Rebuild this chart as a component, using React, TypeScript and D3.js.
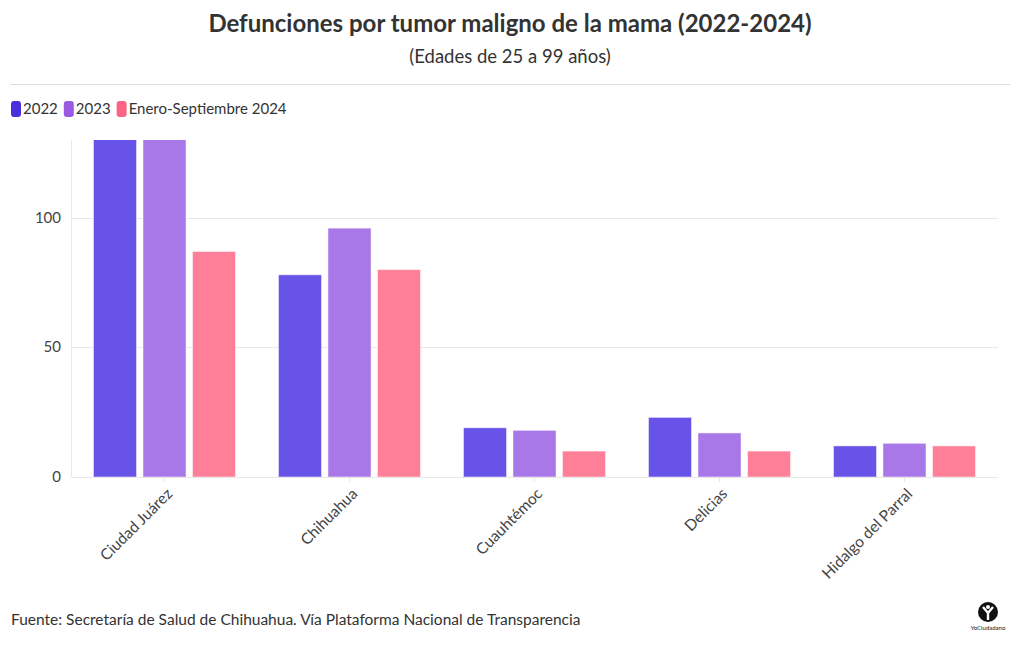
import React, { useEffect, useRef } from "react";
import * as d3 from "d3";

// data (Ciudad Juárez 2022/2023 run off the top of the axis)
const categories = ["Ciudad Juárez", "Chihuahua", "Cuauhtémoc", "Delicias", "Hidalgo del Parral"];
const seriesNames = ["2022", "2023", "Enero-Septiembre 2024"];
const values2022 = [150, 78, 19, 23, 12];
const values2023 = [146, 96, 18, 17, 13];
const values2024 = [87, 80, 10, 10, 12];
const yTicks = [0, 50, 100];

const legendColors = ["#4a30dd", "#9a5be3", "#fb6485"];
const barColors = ["#6753e8", "#a877e8", "#ff7f98"];

const App = () => {
  const ref = useRef<SVGSVGElement | null>(null);

  useEffect(() => {
    const width = 1020;
    const height = 650;
    const margin = { top: 140, right: 23, bottom: 173, left: 72 };
    const font = "Lato, 'Open Sans', sans-serif";

    const svg = d3.select(ref.current);
    svg.selectAll("*").remove();

    // title block
    svg.append("text")
      .attr("x", width / 2).attr("y", 32)
      .attr("text-anchor", "middle")
      .style("font-family", font).style("font-weight", "bold")
      .style("font-size", "24px").attr("fill", "#333")
      .text("Defunciones por tumor maligno de la mama (2022-2024)");

    svg.append("text")
      .attr("x", width / 2).attr("y", 63)
      .attr("text-anchor", "middle")
      .style("font-family", font)
      .style("font-size", "18.5px").attr("fill", "#333")
      .text("(Edades de 25 a 99 años)");

    svg.append("line")
      .attr("x1", 10).attr("x2", 1010).attr("y1", 84.5).attr("y2", 84.5)
      .attr("stroke", "#ddd");

    // legend
    let lx = 11;
    seriesNames.forEach((name, i) => {
      svg.append("rect")
        .attr("x", lx).attr("y", 101).attr("width", 10).attr("height", 16)
        .attr("rx", 3).attr("fill", legendColors[i]);
      const t = svg.append("text")
        .attr("x", lx + 12).attr("y", 114)
        .style("font-family", font).style("font-size", "15px").attr("fill", "#333")
        .text(name);
      lx += 12 + (t.node() as SVGTextElement).getComputedTextLength() + 6;
    });

    const data = categories.map((c, i) => ({
      category: c,
      vals: [values2022[i], values2023[i], values2024[i]],
    }));

    const x0 = d3.scaleBand()
      .domain(categories)
      .range([margin.left, width - margin.right])
      .paddingInner(0.232)
      .paddingOuter(0.116);

    const x1 = d3.scaleBand()
      .domain(d3.range(seriesNames.length).map(String))
      .range([0, x0.bandwidth()])
      .paddingInner(0.13);

    const y = d3.scaleLinear()
      .domain([0, 130])
      .range([height - margin.bottom, margin.top]);

    // grid
    svg.append("g")
      .selectAll("line")
      .data(yTicks)
      .join("line")
      .attr("x1", margin.left).attr("x2", 998)
      .attr("y1", (d) => Math.round(y(d)) + 0.5).attr("y2", (d) => Math.round(y(d)) + 0.5)
      .attr("stroke", "#e8e8e8");

    svg.append("line")
      .attr("x1", margin.left - 0.5).attr("x2", margin.left - 0.5)
      .attr("y1", margin.top).attr("y2", height - margin.bottom)
      .attr("stroke", "#e8e8e8");

    svg.append("g")
      .selectAll("text")
      .data(yTicks)
      .join("text")
      .attr("x", 61).attr("y", (d) => y(d) + 5)
      .attr("text-anchor", "end")
      .style("font-family", font).style("font-size", "15px").attr("fill", "#444")
      .text((d) => d);

    // bars, clipped to plot area
    svg.append("clipPath").attr("id", "plot-clip")
      .append("rect")
      .attr("x", margin.left).attr("y", margin.top)
      .attr("width", width - margin.left - margin.right)
      .attr("height", height - margin.top - margin.bottom);

    svg.append("g")
      .attr("clip-path", "url(#plot-clip)")
      .selectAll("g")
      .data(data)
      .join("g")
      .attr("transform", (d) => `translate(${x0(d.category)},0)`)
      .selectAll("rect")
      .data((d) => d.vals.map((v, i) => ({ v, i })))
      .join("rect")
      .attr("x", (d) => x1(String(d.i)) as number)
      .attr("width", x1.bandwidth())
      .attr("y", (d) => y(d.v))
      .attr("height", (d) => y(0) - y(d.v))
      .attr("fill", (d) => barColors[d.i])
      .attr("stroke", "#fff")
      .attr("stroke-opacity", 0.5);

    // x tick marks and labels
    const xg = svg.append("g");
    categories.forEach((c) => {
      const cx = (x0(c) as number) + x0.bandwidth() / 2;
      xg.append("line")
        .attr("x1", cx).attr("x2", cx)
        .attr("y1", height - margin.bottom).attr("y2", height - margin.bottom + 5)
        .attr("stroke", "#e8e8e8");
      xg.append("text")
        .attr("transform", `translate(${cx + 5},${height - margin.bottom + 14}) rotate(-45)`)
        .attr("text-anchor", "end")
        .attr("dy", "0.35em")
        .style("font-family", font).style("font-size", "15.5px").attr("fill", "#444")
        .text(c);
    });

    // source
    svg.append("text")
      .attr("x", 11).attr("y", 625)
      .style("font-family", font).style("font-size", "15.5px").attr("fill", "#333")
      .text("Fuente: Secretaría de Salud de Chihuahua. Vía Plataforma Nacional de Transparencia");

    // logo
    const logo = svg.append("g").attr("transform", "translate(988,612)");
    logo.append("circle").attr("r", 10).attr("fill", "#111");
    logo.append("path")
      .attr("d", "M-5,-5 L0,1 L5,-5 M0,1 L0,8")
      .attr("stroke", "#fff").attr("stroke-width", 2.4).attr("fill", "none");
    logo.append("circle").attr("cy", -5).attr("r", 2).attr("fill", "#fff");
    logo.append("text")
      .attr("y", 18).attr("text-anchor", "middle")
      .style("font-family", font).style("font-size", "6px").attr("fill", "#111")
      .text("YoCiudadano");
  }, []);

  return (
    <svg
      ref={ref}
      width={1020}
      height={650}
      style={{ display: "block", position: "absolute", left: 0, top: 0, background: "#fff" }}
    />
  );
};

export default App;
